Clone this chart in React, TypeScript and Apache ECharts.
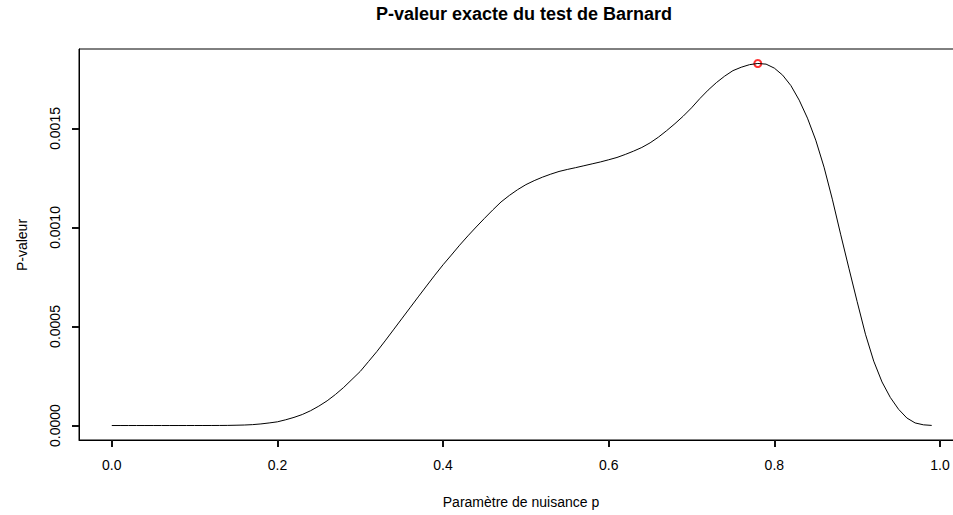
import React, { useEffect, useRef } from "react";
import * as echarts from "echarts";

// Nuisance parameter grid
const nuisanceP = [
  0.0, 0.01, 0.02, 0.03, 0.04, 0.05, 0.06, 0.07, 0.08, 0.09,
  0.1, 0.11, 0.12, 0.13, 0.14, 0.15, 0.16, 0.17, 0.18, 0.19,
  0.2, 0.21, 0.22, 0.23, 0.24, 0.25, 0.26, 0.27, 0.28, 0.29,
  0.3, 0.31, 0.32, 0.33, 0.34, 0.35, 0.36, 0.37, 0.38, 0.39,
  0.4, 0.41, 0.42, 0.43, 0.44, 0.45, 0.46, 0.47, 0.48, 0.49,
  0.5, 0.51, 0.52, 0.53, 0.54, 0.55, 0.56, 0.57, 0.58, 0.59,
  0.6, 0.61, 0.62, 0.63, 0.64, 0.65, 0.66, 0.67, 0.68, 0.69,
  0.7, 0.71, 0.72, 0.73, 0.74, 0.75, 0.76, 0.77, 0.78, 0.79,
  0.8, 0.81, 0.82, 0.83, 0.84, 0.85, 0.86, 0.87, 0.88, 0.89,
  0.9, 0.91, 0.92, 0.93, 0.94, 0.95, 0.96, 0.97, 0.98, 0.99,
];

// Exact p-value at each nuisance parameter value
const pValue = [
  0, 0, 0, 0, 0, 0, 0, 0, 0, 0,
  0.00000002, 0.00000005, 0.00000012, 0.00000028, 0.0000006, 0.0000015, 0.0000025, 0.0000045, 0.000008, 0.000013,
  0.0000187, 0.000029, 0.000041, 0.0000556, 0.0000747, 0.000098, 0.0001247, 0.0001566, 0.0001924, 0.0002328,
  0.0002732, 0.0003232, 0.0003732, 0.0004273, 0.0004828, 0.0005384, 0.000594, 0.0006495, 0.0007045, 0.000759,
  0.0008116, 0.0008606, 0.0009106, 0.0009576, 0.0010025, 0.001046, 0.0010884, 0.0011288, 0.0011616, 0.0011909,
  0.0012162, 0.0012364, 0.001254, 0.0012692, 0.0012828, 0.0012929, 0.001302, 0.0013116, 0.0013212, 0.0013308,
  0.0013419, 0.0013535, 0.0013687, 0.0013854, 0.001404, 0.0014273, 0.001456, 0.0014889, 0.0015242, 0.0015621,
  0.001604, 0.0016505, 0.0016934, 0.0017313, 0.0017641, 0.0017919, 0.001809, 0.001822, 0.001828, 0.0018247,
  0.0018045, 0.0017692, 0.0017162, 0.0016429, 0.001552, 0.0014409, 0.0013045, 0.0011429, 0.0009662, 0.0007944,
  0.0006253, 0.0004611, 0.000325, 0.00022, 0.000142, 0.000082, 0.000038, 0.000013, 0.0000035, 0.0000005,
];

const xTicks = [0, 0.2, 0.4, 0.6, 0.8, 1.0];
const yTicks = [0, 0.0005, 0.001, 0.0015];

const TITLE = "P-valeur exacte du test de Barnard";
const X_NAME = "Paramètre de nuisance p";
const Y_NAME = "P-valeur";

const FONT = "'Liberation Sans', Arial, Helvetica, sans-serif";

export default function App() {
  const ref = useRef<HTMLDivElement>(null);

  useEffect(() => {
    if (!ref.current) return;
    const chart = echarts.init(ref.current, undefined, { renderer: "svg" });

    // 4% padding on both axes
    const xMin = Math.min(...nuisanceP);
    const xMax = Math.max(...nuisanceP);
    const yMin = Math.min(...pValue);
    const yMax = Math.max(...pValue);
    const xPad = (xMax - xMin) * 0.04;
    const yPad = (yMax - yMin) * 0.04;

    let peak = 0;
    pValue.forEach((v, i) => {
      if (v > pValue[peak]) peak = i;
    });

    const curve = nuisanceP.map((p, i) => [p, pValue[i]]);

    const tick = {
      show: true,
      length: 7,
      lineStyle: { color: "#111", width: 2 },
    };

    chart.setOption({
      animation: false,
      grid: {
        show: true,
        left: 79,
        top: 49,
        width: 885.5,
        height: 391,
        outerBoundsMode: "none",
        borderColor: "#000",
        borderWidth: 1,
      },
      xAxis: {
        type: "value",
        min: xMin - xPad,
        max: xMax + xPad,
        splitLine: { show: false },
        axisLine: { show: true, onZero: false, lineStyle: { color: "#000", width: 1 } },
        axisTick: { ...tick, customValues: xTicks },
        axisLabel: {
          customValues: xTicks,
          formatter: (v: number) => v.toFixed(1),
          color: "#000",
          fontFamily: FONT,
          fontSize: 14,
          margin: 18,
        },
      },
      yAxis: {
        type: "value",
        min: yMin - yPad,
        max: yMax + yPad,
        splitLine: { show: false },
        axisLine: { show: true, onZero: false, lineStyle: { color: "#000", width: 1 } },
        axisTick: { ...tick, customValues: yTicks },
        axisLabel: {
          customValues: yTicks,
          formatter: (v: number) => v.toFixed(4),
          rotate: 90,
          color: "#000",
          fontFamily: FONT,
          fontSize: 14,
          margin: 17,
        },
      },
      graphic: [
        {
          type: "text",
          x: 524,
          y: 14,
          style: {
            text: TITLE,
            font: `bold 18px ${FONT}`,
            fill: "#000",
            align: "center",
            verticalAlign: "middle",
          },
        },
        {
          type: "text",
          x: 521,
          y: 502,
          style: {
            text: X_NAME,
            font: `14px ${FONT}`,
            fill: "#000",
            align: "center",
            verticalAlign: "middle",
          },
        },
        {
          type: "text",
          x: 22,
          y: 245,
          rotation: Math.PI / 2,
          style: {
            text: Y_NAME,
            font: `14px ${FONT}`,
            fill: "#000",
            align: "center",
            verticalAlign: "middle",
          },
        },
      ],
      series: [
        {
          type: "line",
          data: curve,
          showSymbol: false,
          lineStyle: { color: "#000", width: 1 },
          silent: true,
        },
        {
          type: "scatter",
          data: [[nuisanceP[peak], pValue[peak]]],
          symbol: "emptyCircle",
          symbolSize: 7,
          itemStyle: { color: "#ff0000", borderColor: "#ff0000", borderWidth: 1 },
          silent: true,
        },
      ],
    });

    return () => chart.dispose();
  }, []);

  return (
    <div
      ref={ref}
      style={{ position: "absolute", left: 0, top: 0, width: 953, height: 515 }}
    />
  );
}
